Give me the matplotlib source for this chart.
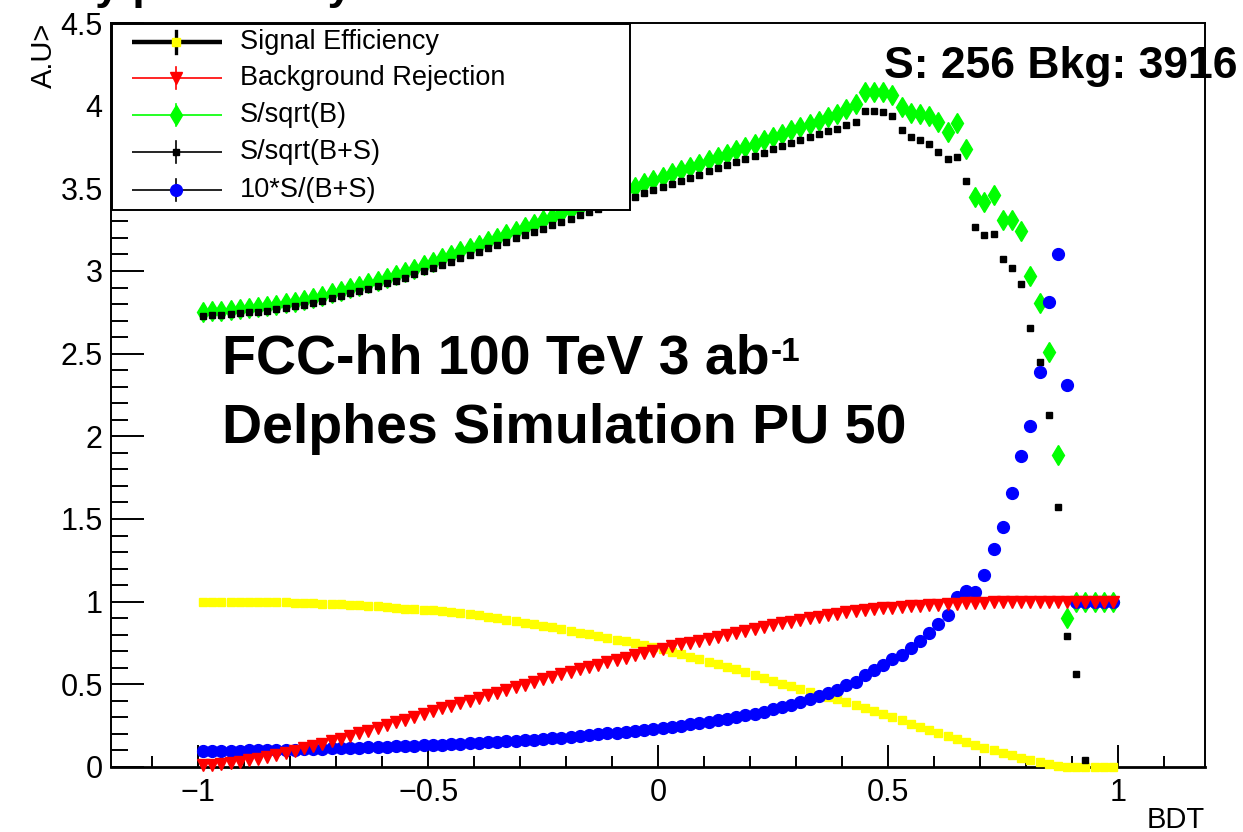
import numpy as np
import matplotlib
matplotlib.use("Agg")
import matplotlib.pyplot as plt
from matplotlib.ticker import MultipleLocator, FuncFormatter

plt.rcParams['font.family'] = ['Liberation Sans', 'DejaVu Sans']

# BDT binning: 100 bins on [-1, 1]
nbins = 100
bdt_range = (-1.0, 1.0)

sig_eff = [
    1.000, 1.000, 1.000, 1.000, 1.000, 1.000, 0.999, 0.998, 0.997, 0.996,
    0.994, 0.992, 0.990, 0.988, 0.985, 0.983, 0.980, 0.977, 0.974, 0.971,
    0.967, 0.963, 0.958, 0.955, 0.951, 0.947, 0.943, 0.938, 0.932, 0.925,
    0.918, 0.910, 0.900, 0.891, 0.882, 0.873, 0.864, 0.855, 0.845, 0.835,
    0.824, 0.813, 0.802, 0.790, 0.782, 0.771, 0.760, 0.748, 0.737, 0.725,
    0.711, 0.697, 0.683, 0.668, 0.653, 0.638, 0.622, 0.607, 0.590, 0.573,
    0.557, 0.540, 0.523, 0.505, 0.488, 0.470, 0.454, 0.438, 0.425, 0.410,
    0.395, 0.376, 0.357, 0.339, 0.321, 0.302, 0.282, 0.262, 0.243, 0.224,
    0.205, 0.186, 0.168, 0.150, 0.133, 0.116, 0.100, 0.085, 0.070, 0.056,
    0.043, 0.030, 0.018, 0.008, 0.002, 0.000, 0.000, 0.000, 0.000, 0.000,
]

bkg_rej = [
    0.010, 0.014, 0.019, 0.025, 0.032, 0.040, 0.050, 0.061, 0.073, 0.086,
    0.099, 0.113, 0.127, 0.142, 0.157, 0.172, 0.188, 0.204, 0.220, 0.237,
    0.254, 0.270, 0.287, 0.304, 0.321, 0.338, 0.354, 0.370, 0.386, 0.402,
    0.418, 0.434, 0.450, 0.466, 0.482, 0.498, 0.514, 0.530, 0.545, 0.560,
    0.575, 0.590, 0.605, 0.619, 0.633, 0.647, 0.661, 0.675, 0.689, 0.703,
    0.716, 0.729, 0.741, 0.753, 0.765, 0.777, 0.788, 0.799, 0.810, 0.820,
    0.833, 0.845, 0.857, 0.868, 0.879, 0.890, 0.900, 0.910, 0.919, 0.927,
    0.935, 0.942, 0.948, 0.954, 0.959, 0.964, 0.968, 0.972, 0.976, 0.979,
    0.982, 0.985, 0.987, 0.989, 0.991, 0.993, 0.995, 0.996, 0.997, 0.998,
    0.999, 1.000, 1.000, 1.000, 1.000, 1.000, 1.000, 1.000, 1.000, 1.000,
]

s_sqrt_b = [
    2.754, 2.757, 2.760, 2.765, 2.770, 2.775, 2.780, 2.787, 2.795, 2.805,
    2.815, 2.825, 2.836, 2.850, 2.865, 2.880, 2.896, 2.911, 2.926, 2.941,
    2.958, 2.976, 2.995, 3.015, 3.035, 3.055, 3.076, 3.097, 3.118, 3.139,
    3.160, 3.181, 3.202, 3.223, 3.244, 3.265, 3.286, 3.307, 3.328, 3.349,
    3.370, 3.390, 3.410, 3.430, 3.450, 3.470, 3.490, 3.510, 3.530, 3.550,
    3.570, 3.590, 3.610, 3.630, 3.650, 3.670, 3.690, 3.710, 3.730, 3.750,
    3.770, 3.790, 3.810, 3.830, 3.850, 3.870, 3.890, 3.910, 3.930, 3.950,
    3.980, 4.010, 4.080, 4.085, 4.085, 4.065, 3.990, 3.955, 3.950, 3.935,
    3.900, 3.840, 3.895, 3.740, 3.450, 3.415, 3.460, 3.310, 3.310, 3.240,
    2.970, 2.805, 2.510, 1.890, 0.900, 1.000, 1.000, 1.000, 1.000, 1.000,
]

s_sqrt_bs = [
    2.730, 2.733, 2.736, 2.740, 2.745, 2.750, 2.755, 2.761, 2.769, 2.778,
    2.787, 2.797, 2.808, 2.821, 2.835, 2.850, 2.865, 2.880, 2.894, 2.909,
    2.925, 2.942, 2.960, 2.979, 2.998, 3.017, 3.037, 3.057, 3.077, 3.097,
    3.117, 3.137, 3.157, 3.177, 3.197, 3.217, 3.237, 3.257, 3.277, 3.297,
    3.317, 3.336, 3.355, 3.374, 3.393, 3.412, 3.431, 3.450, 3.469, 3.488,
    3.507, 3.526, 3.545, 3.564, 3.583, 3.602, 3.621, 3.640, 3.659, 3.678,
    3.697, 3.716, 3.735, 3.754, 3.773, 3.792, 3.810, 3.828, 3.845, 3.860,
    3.885, 3.900, 3.970, 3.970, 3.960, 3.940, 3.850, 3.810, 3.790, 3.770,
    3.720, 3.675, 3.690, 3.545, 3.265, 3.215, 3.225, 3.070, 3.020, 2.920,
    2.655, 2.450, 2.130, 1.575, 0.790, 0.560, 0.040, np.nan, np.nan, np.nan,
]

ten_s_bs = [
    0.097, 0.097, 0.098, 0.098, 0.099, 0.100, 0.101, 0.102, 0.103, 0.104,
    0.105, 0.107, 0.108, 0.110, 0.112, 0.113, 0.115, 0.117, 0.119, 0.121,
    0.123, 0.125, 0.127, 0.129, 0.131, 0.133, 0.136, 0.138, 0.141, 0.144,
    0.147, 0.150, 0.153, 0.156, 0.159, 0.163, 0.166, 0.170, 0.174, 0.178,
    0.183, 0.188, 0.193, 0.198, 0.203, 0.208, 0.213, 0.219, 0.225, 0.231,
    0.238, 0.244, 0.251, 0.258, 0.266, 0.274, 0.283, 0.292, 0.302, 0.312,
    0.323, 0.335, 0.348, 0.362, 0.377, 0.393, 0.410, 0.428, 0.447, 0.466,
    0.496, 0.516, 0.557, 0.587, 0.617, 0.651, 0.678, 0.718, 0.764, 0.813,
    0.865, 0.920, 1.030, 1.065, 1.060, 1.160, 1.320, 1.450, 1.660, 1.880,
    2.060, 2.390, 2.810, 3.100, 2.310, 1.000, 1.000, 1.000, 1.000, 1.000,
]

labels = ["Signal Efficiency", "Background Rejection", "S/sqrt(B)",
          "S/sqrt(B+S)", "10*S/(B+S)"]

edges = np.linspace(bdt_range[0], bdt_range[1], nbins + 1)
centers = 0.5 * (edges[:-1] + edges[1:])

W, H = 1243, 832
fig = plt.figure(figsize=(W / 100, H / 100), dpi=100)
ax = fig.add_axes([111 / W, 1 - 767 / H, (1205 - 111) / W, (767 - 23) / H])

# draw order: yellow, green, black, blue, red on top
ax.plot(centers, sig_eff, ls='none', marker='s', ms=5.5, color='#ffff00',
        mec='#ffff00', clip_on=False, zorder=3)
ax.plot(centers, s_sqrt_b, ls='none', marker='d', ms=10, color='#00ff00',
        mec='#00ff00', clip_on=False, zorder=4)
ax.plot(centers, s_sqrt_bs, ls='none', marker='s', ms=4.5, color='black',
        clip_on=False, zorder=5)
ax.plot(centers, ten_s_bs, ls='none', marker='o', ms=8.5, color='#0000ff',
        mec='#0000ff', clip_on=False, zorder=6)
ax.plot(centers, bkg_rej, ls='none', marker='v', ms=9, color='#ff0000',
        mec='#ff0000', clip_on=False, zorder=7)

ax.set_xlim(-1.19, 1.19)
ax.set_ylim(0, 4.5)

ax.xaxis.set_major_locator(MultipleLocator(0.5))
ax.xaxis.set_minor_locator(MultipleLocator(0.1))
ax.yaxis.set_major_locator(MultipleLocator(0.5))
ax.yaxis.set_minor_locator(MultipleLocator(0.1))
ax.yaxis.set_major_formatter(FuncFormatter(lambda v, p: '%g' % v))
ax.xaxis.set_major_formatter(FuncFormatter(
    lambda v, p: ('%g' % v).replace('-', '\u2212')))

ax.tick_params(axis='x', which='major', direction='in', length=16, width=1.4,
               labelsize=22, pad=8)
ax.tick_params(axis='x', which='minor', direction='in', length=8, width=1.4)
ax.tick_params(axis='y', which='major', direction='in', length=24, width=1.4,
               labelsize=22, pad=6)
ax.tick_params(axis='y', which='minor', direction='in', length=12, width=1.4)
for s in ax.spines.values():
    s.set_linewidth(1.4)
ax.spines['bottom'].set_linewidth(2.0)

ax.set_ylabel('A.U>', loc='top', fontsize=21, labelpad=2)
fig.text(1205 / W, 1 - 828 / H, 'BDT', fontsize=21, ha='right',
         va='baseline')

# labels on the pad
x0 = (222 - 111) / (1205 - 111)
t1 = ax.text(x0, 1 - (373 - 23) / 744, 'FCC-hh 100 TeV 3 ab',
             transform=ax.transAxes, fontsize=40, fontweight='bold',
             va='baseline', ha='left')
ax.annotate('-1', xy=(1, 1), xycoords=t1, xytext=(1, -3),
            textcoords='offset points', fontsize=24, fontweight='bold',
            va='top', ha='left')
ax.text(x0, 1 - (443 - 23) / 744, 'Delphes Simulation PU 50',
        transform=ax.transAxes, fontsize=40, fontweight='bold',
        va='baseline', ha='left')
ax.text(1238 / W, 1 - 78 / H, 'S: 256 Bkg: 3916', transform=fig.transFigure,
        fontsize=32, fontweight='bold', ha='right', va='baseline',
        clip_on=False, zorder=2)
fig.text(-90 / W, 1 + 1 / H, 'Efficiency plot Purity', fontsize=32,
         fontweight='bold', ha='left', va='baseline')

# legend box
leg = fig.add_axes([112 / W, 1 - 210 / H, (630 - 112) / W, (210 - 24) / H],
                   zorder=5)
leg.set_xlim(0, 518)
leg.set_ylim(186, 0)
leg.set_xticks([])
leg.set_yticks([])
for s in leg.spines.values():
    s.set_linewidth(1.4)

rows = [18, 54, 91, 128, 166]
line_cols = ['black', '#ff0000', '#00ff00', 'black', 'black']
line_w = [3.2, 1.2, 1.2, 1.2, 1.2]
mk = [('s', '#ffff00', 6), ('v', '#ff0000', 9), ('d', '#00ff00', 10),
      ('s', 'black', 4.5), ('o', '#0000ff', 8.5)]
for ry, lab, lc, lw, (m, mc, ms) in zip(rows, labels, line_cols, line_w, mk):
    leg.plot([20, 110], [ry, ry], color=lc, lw=lw, solid_capstyle='butt')
    leg.plot([64, 64], [ry - 11, ry + 11], color=lc, lw=max(lw - 0.8, 1.2))
    leg.plot([64], [ry], marker=m, color=mc, mec=mc, ms=ms, ls='none')
    leg.text(128, ry, lab, fontsize=19.5, va='center', ha='left')

fig.savefig('out.png', dpi=100)
